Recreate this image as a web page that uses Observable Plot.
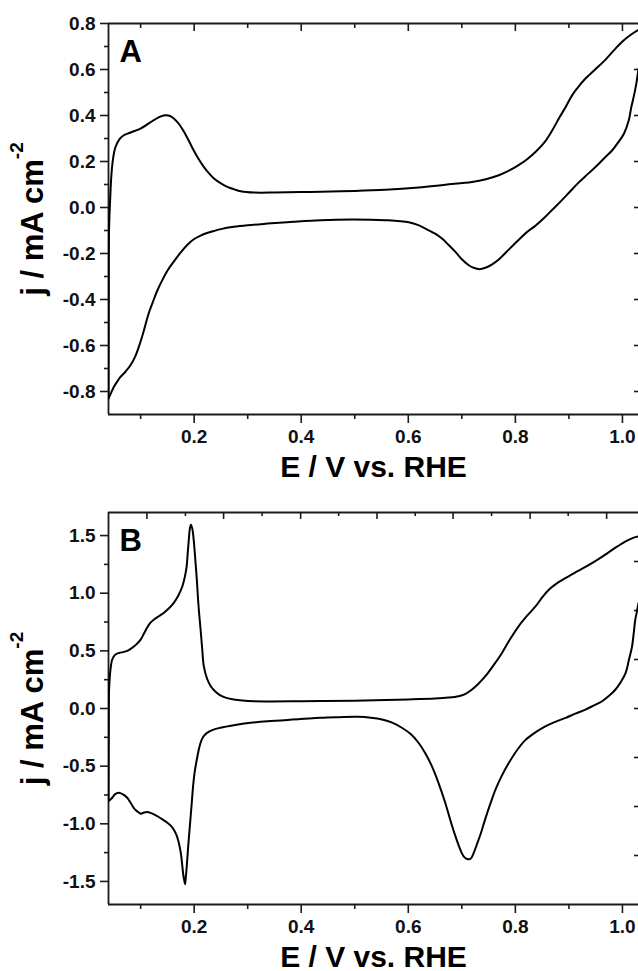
<!DOCTYPE html>
<html><head><meta charset="utf-8">
<script src="https://cdn.jsdelivr.net/npm/d3@7"></script>
<script src="https://cdn.jsdelivr.net/npm/@observablehq/plot@0.6"></script>
<style>
html,body{margin:0;padding:0;background:#fff;overflow:hidden;}
#chart{width:638px;}
svg{display:block;}
</style></head><body><div id="chart"></div>
<script>
// ---------- shared axis ticks ----------
const xDomain = [0.04, 1.03];
const xMajor = [0.2, 0.4, 0.6, 0.8, 1.0];
const xMinor = [0.1, 0.3, 0.5, 0.7, 0.9];
const xTitle = "E / V vs. RHE";
const yTitle = "j / mA cm";
const yTitleSup = "-2";

// ---------- panel A ----------
const yDomainA = [-0.9, 0.8];
const yMajorA = [-0.8, -0.6, -0.4, -0.2, 0.0, 0.2, 0.4, 0.6, 0.8];
const yMinorA = [-0.7, -0.5, -0.3, -0.1, 0.1, 0.3, 0.5, 0.7];
const rightTicksA = [-0.8, -0.6, -0.4, -0.2, 0.0, 0.2, 0.4, 0.6];
const topMajorA = [0.2, 0.4, 0.6, 0.8, 1.0];
const topMinorA = [0.1, 0.3, 0.5, 0.7, 0.9];

const anodicA_E = [0.040,0.0405,0.041,0.043,0.0456,0.049,0.053,0.060,0.0686,0.0811,0.0998,0.1247,0.138,0.1465,0.155,0.162,0.172,0.181,0.190,0.199,0.208,0.218,0.228,0.237,0.250,0.262,0.275,0.287,0.312,0.350,0.399,0.436,0.500,0.557,0.619,0.669,0.719,0.745,0.769,0.788,0.806,0.822,0.838,0.855,0.869,0.882,0.894,0.903,0.912,0.922,0.931,0.950,0.968,0.984,0.999,1.015,1.031];
const anodicA_j = [-0.83,-0.40,-0.10,0.03,0.147,0.22,0.263,0.295,0.314,0.326,0.343,0.380,0.396,0.401,0.398,0.387,0.362,0.329,0.290,0.249,0.212,0.177,0.148,0.126,0.105,0.090,0.079,0.071,0.065,0.065,0.067,0.069,0.072,0.077,0.087,0.099,0.111,0.123,0.140,0.160,0.184,0.210,0.242,0.285,0.336,0.390,0.437,0.476,0.508,0.537,0.561,0.602,0.642,0.683,0.720,0.750,0.774];

const cathodicA_E = [1.030,1.026,1.021,1.016,1.012,1.003,0.992,0.981,0.965,0.950,0.934,0.918,0.900,0.881,0.868,0.856,0.838,0.822,0.806,0.788,0.769,0.756,0.744,0.733,0.722,0.713,0.700,0.688,0.675,0.663,0.650,0.638,0.620,0.601,0.557,0.495,0.436,0.385,0.337,0.300,0.274,0.250,0.237,0.224,0.212,0.200,0.187,0.175,0.163,0.150,0.140,0.131,0.123,0.115,0.109,0.103,0.096,0.090,0.081,0.072,0.062,0.056,0.050,0.045,0.040];
const cathodicA_j = [0.604,0.54,0.481,0.43,0.38,0.322,0.283,0.249,0.212,0.177,0.143,0.108,0.064,0.018,-0.012,-0.040,-0.078,-0.106,-0.141,-0.182,-0.226,-0.248,-0.262,-0.268,-0.262,-0.251,-0.225,-0.193,-0.162,-0.135,-0.114,-0.099,-0.078,-0.064,-0.055,-0.052,-0.055,-0.062,-0.070,-0.077,-0.084,-0.094,-0.102,-0.111,-0.122,-0.137,-0.163,-0.195,-0.232,-0.275,-0.318,-0.362,-0.41,-0.461,-0.51,-0.560,-0.610,-0.647,-0.686,-0.713,-0.738,-0.758,-0.78,-0.805,-0.83];

// ---------- panel B ----------
const yDomainB = [-1.7, 1.7];
const yMajorB = [-1.5, -1.0, -0.5, 0.0, 0.5, 1.0, 1.5];
const yMinorB = [-1.25, -0.75, -0.25, 0.25, 0.75, 1.25];
const rightTicksB = [-1.275, -0.85, -0.425, 0.0, 0.425, 0.85, 1.275];
const topMajorB = [0.1118, 0.255, 0.3989, 0.5415, 0.6836, 0.8275, 0.9705];
const topMinorB = [0.1837, 0.3269, 0.4699, 0.6129, 0.7555, 0.8987];

const anodicB_E = [0.040,0.0405,0.041,0.0425,0.0437,0.047,0.053,0.060,0.069,0.077,0.084,0.092,0.100,0.106,0.112,0.118,0.125,0.134,0.143,0.152,0.162,0.170,0.178,0.183,0.186,0.188,0.190,0.192,0.194,0.1965,0.199,0.202,0.205,0.208,0.212,0.215,0.218,0.224,0.231,0.240,0.249,0.260,0.274,0.290,0.312,0.400,0.500,0.557,0.600,0.650,0.675,0.694,0.706,0.719,0.731,0.744,0.760,0.775,0.790,0.806,0.822,0.838,0.850,0.862,0.878,0.894,0.912,0.931,0.950,0.968,0.987,1.006,1.020,1.031];
const anodicB_j = [-0.80,-0.20,0.15,0.28,0.338,0.425,0.468,0.482,0.491,0.505,0.526,0.556,0.598,0.648,0.700,0.742,0.772,0.800,0.829,0.865,0.916,0.975,1.06,1.15,1.233,1.35,1.464,1.56,1.594,1.56,1.47,1.30,1.118,0.90,0.685,0.52,0.367,0.26,0.193,0.145,0.113,0.092,0.078,0.069,0.063,0.063,0.068,0.074,0.079,0.087,0.095,0.107,0.125,0.165,0.215,0.28,0.38,0.482,0.60,0.713,0.805,0.887,0.963,1.028,1.088,1.133,1.180,1.228,1.28,1.334,1.395,1.45,1.48,1.493];

const cathodicB_E = [1.030,1.027,1.024,1.021,1.018,1.012,1.006,0.997,0.987,0.975,0.962,0.946,0.931,0.912,0.894,0.872,0.856,0.838,0.819,0.803,0.788,0.775,0.763,0.753,0.744,0.736,0.728,0.722,0.716,0.710,0.703,0.696,0.688,0.678,0.669,0.656,0.644,0.632,0.619,0.604,0.588,0.570,0.551,0.530,0.507,0.470,0.436,0.399,0.337,0.305,0.274,0.249,0.235,0.224,0.217,0.212,0.208,0.205,0.201,0.198,0.1955,0.193,0.1905,0.188,0.186,0.184,0.183,0.1815,0.180,0.1775,0.175,0.170,0.165,0.158,0.150,0.140,0.131,0.120,0.112,0.105,0.100,0.093,0.087,0.081,0.075,0.067,0.059,0.052,0.047,0.040];
const cathodicB_j = [0.916,0.84,0.771,0.65,0.54,0.42,0.309,0.23,0.165,0.11,0.063,0.025,-0.009,-0.045,-0.081,-0.120,-0.155,-0.205,-0.272,-0.362,-0.471,-0.58,-0.702,-0.83,-0.955,-1.075,-1.180,-1.255,-1.305,-1.305,-1.28,-1.21,-1.107,-0.96,-0.817,-0.64,-0.50,-0.39,-0.297,-0.22,-0.167,-0.122,-0.095,-0.08,-0.072,-0.075,-0.080,-0.092,-0.110,-0.124,-0.145,-0.167,-0.185,-0.211,-0.245,-0.297,-0.37,-0.442,-0.55,-0.673,-0.82,-0.962,-1.10,-1.25,-1.38,-1.482,-1.525,-1.49,-1.453,-1.35,-1.25,-1.14,-1.077,-1.025,-0.991,-0.96,-0.933,-0.908,-0.898,-0.905,-0.912,-0.89,-0.861,-0.815,-0.774,-0.745,-0.731,-0.745,-0.774,-0.803];

const FONT = "'Liberation Sans', Arial, Helvetica, sans-serif";
const fmt = d => d.toFixed(1);

function panel(o) {
  const W = 638, mL = 108, mR = 0;
  const fH = o.height - o.mT - o.mB, fW = W - mL - mR;
  const line = (E, j) => Plot.line(E.map((e, i) => ({E: e, j: j[i]})), {
    x: "E", y: "j", curve: "catmull-rom", stroke: "#000", strokeWidth: 2, clip: true
  });
  const axisStyle = {stroke: "#1a1a1a", strokeWidth: 1.6, label: null, fontSize: 19, fontWeight: "bold", fill: "#111"};
  const svg = Plot.plot({
    width: W, height: o.height,
    marginLeft: mL, marginRight: mR, marginTop: o.mT, marginBottom: o.mB,
    style: {fontFamily: FONT, background: "#fff", overflow: "visible"},
    x: {domain: xDomain, label: null},
    y: {domain: o.yDomain, label: null},
    marks: [
      // frame (left, top, bottom)
      Plot.ruleX([xDomain[0]], {stroke: "#1a1a1a", strokeWidth: 1.8}),
      Plot.ruleY([o.yDomain[0]], {stroke: "#1a1a1a", strokeWidth: 1.8}),
      Plot.ruleY([o.yDomain[1]], {stroke: "#1a1a1a", strokeWidth: 1.8}),
      // left axis
      Plot.axisY(o.yMajor, {...axisStyle, anchor: "left", tickSize: 8, tickPadding: 5, tickFormat: fmt}),
      Plot.axisY(o.yMinor, {...axisStyle, anchor: "left", tickSize: 4, tickFormat: () => ""}),
      // bottom axis
      Plot.axisX(xMajor, {...axisStyle, anchor: "bottom", tickSize: 9, tickPadding: 6, tickFormat: fmt}),
      Plot.axisX(xMinor, {...axisStyle, anchor: "bottom", tickSize: 5, tickFormat: () => ""}),
      // top mirrored ticks (inward)
      Plot.tickX(o.topMajor, {x: d => d, stroke: "#1a1a1a", strokeWidth: 1.6, insetBottom: fH - o.topMajorLen}),
      Plot.tickX(o.topMinor, {x: d => d, stroke: "#1a1a1a", strokeWidth: 1.6, insetBottom: fH - o.topMinorLen}),
      // right mirrored ticks (inward)
      Plot.tickY(o.rightTicks, {y: d => d, stroke: "#1a1a1a", strokeWidth: 1.6, insetLeft: fW - 4}),
      // curves
      line(o.anodicE, o.anodicJ),
      line(o.cathodicE, o.cathodicJ),
      // panel letter
      Plot.text([o.letter], {frameAnchor: "top-left", dx: 11, dy: 38.5, textAnchor: "start", lineAnchor: "bottom",
        fontSize: 31, fontWeight: "bold", fill: "#000"}),
      // axis titles
      Plot.text([xTitle], {frameAnchor: "bottom", dy: 62, textAnchor: "middle", lineAnchor: "bottom", fontSize: 30, fontWeight: "bold", fill: "#000"}),
      Plot.text([yTitle], {frameAnchor: "left", dx: -66, rotate: -90, textAnchor: "middle", lineAnchor: "bottom", fontSize: 31, fontWeight: "bold", fill: "#000"})
    ]
  });
  d3.select(svg).selectAll("text").filter(function () { return this.textContent === yTitle; })
    .append("tspan").attr("dy", -20).attr("font-size", 19).text(yTitleSup);
  return svg;
}

const chart = document.getElementById("chart");
chart.append(panel({
  height: 490, mT: 23, mB: 76, yDomain: yDomainA, yMajor: yMajorA, yMinor: yMinorA,
  rightTicks: rightTicksA, topMajor: topMajorA, topMinor: topMinorA, topMajorLen: 8, topMinorLen: 5,
  anodicE: anodicA_E, anodicJ: anodicA_j, cathodicE: cathodicA_E, cathodicJ: cathodicA_j, letter: "A"
}));
chart.append(panel({
  height: 481, mT: 22, mB: 67, yDomain: yDomainB, yMajor: yMajorB, yMinor: yMinorB,
  rightTicks: rightTicksB, topMajor: topMajorB, topMinor: topMinorB, topMajorLen: 7, topMinorLen: 4,
  anodicE: anodicB_E, anodicJ: anodicB_j, cathodicE: cathodicB_E, cathodicJ: cathodicB_j, letter: "B"
}));
</script></body></html>
